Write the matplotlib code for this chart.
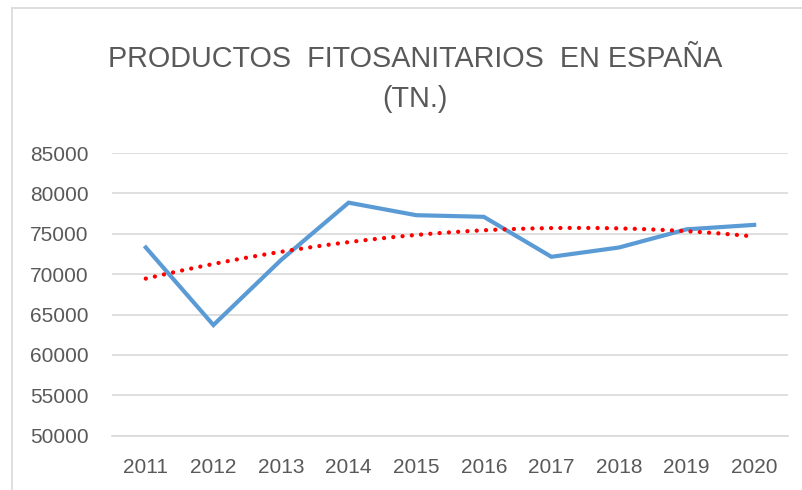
import numpy as np
import matplotlib
matplotlib.use("Agg")
import matplotlib.pyplot as plt
from matplotlib.lines import Line2D

years = ["2011", "2012", "2013", "2014", "2015", "2016", "2017", "2018", "2019", "2020"]
tonnes = [73300, 63700, 71750, 78850, 77300, 77100, 72150, 73300, 75550, 76100]
yticks = [50000, 55000, 60000, 65000, 70000, 75000, 80000, 85000]
title = "PRODUCTOS  FITOSANITARIOS  EN ESPAÑA\n(TN.)"

grey = "#595959"
fig = plt.figure(figsize=(8.03, 4.90), dpi=100)
ax = fig.add_axes([112/803, 1-435.7/490, (788-112)/803, (435.7-153)/490])

x = np.arange(len(years))
ax.plot(x, tonnes, color="#5b9bd5", lw=3.0, solid_joinstyle="miter", zorder=3)

coef = np.polyfit(x, tonnes, 2)
xs = np.linspace(0, len(years)-1, 300)
ax.plot(xs, np.polyval(coef, xs), color="#ff0000", lw=3.1,
        linestyle=(0, (0.01, 2.15)), dash_capstyle="round", zorder=4)

ax.set_xlim(-0.5, len(years)-0.5)
ax.set_ylim(50000, 85000)
ax.set_yticks(yticks)
ax.set_yticklabels([str(v) for v in yticks])
ax.set_xticks(x)
ax.set_xticklabels(years)
ax.tick_params(length=0, labelsize=15, labelcolor=grey)
ax.tick_params(axis="y", pad=17)
ax.tick_params(axis="x", pad=16)
for lab in ax.get_xticklabels() + ax.get_yticklabels():
    lab.set_fontfamily(["Liberation Sans", "DejaVu Sans"])
ax.grid(axis="y", color="#d9d9d9", lw=1.2)
ax.set_axisbelow(True)
for s in ["top", "right", "left"]:
    ax.spines[s].set_visible(False)
ax.spines["bottom"].set_color("#d9d9d9")
ax.spines["bottom"].set_linewidth(1.2)

fig.text(415/803, 1-79/490, title, ha="center", va="center", fontsize=20.7,
         color=grey, family=["Liberation Sans", "DejaVu Sans"], linespacing=1.55)

fig.add_artist(Line2D([12.5/803, 12.5/803], [0, 1-8.5/490], transform=fig.transFigure, color="#d9d9d9", lw=1.2))
fig.add_artist(Line2D([12.5/803, 1], [1-8.5/490, 1-8.5/490], transform=fig.transFigure, color="#d9d9d9", lw=1.2))

fig.savefig("out.png", dpi=100)
